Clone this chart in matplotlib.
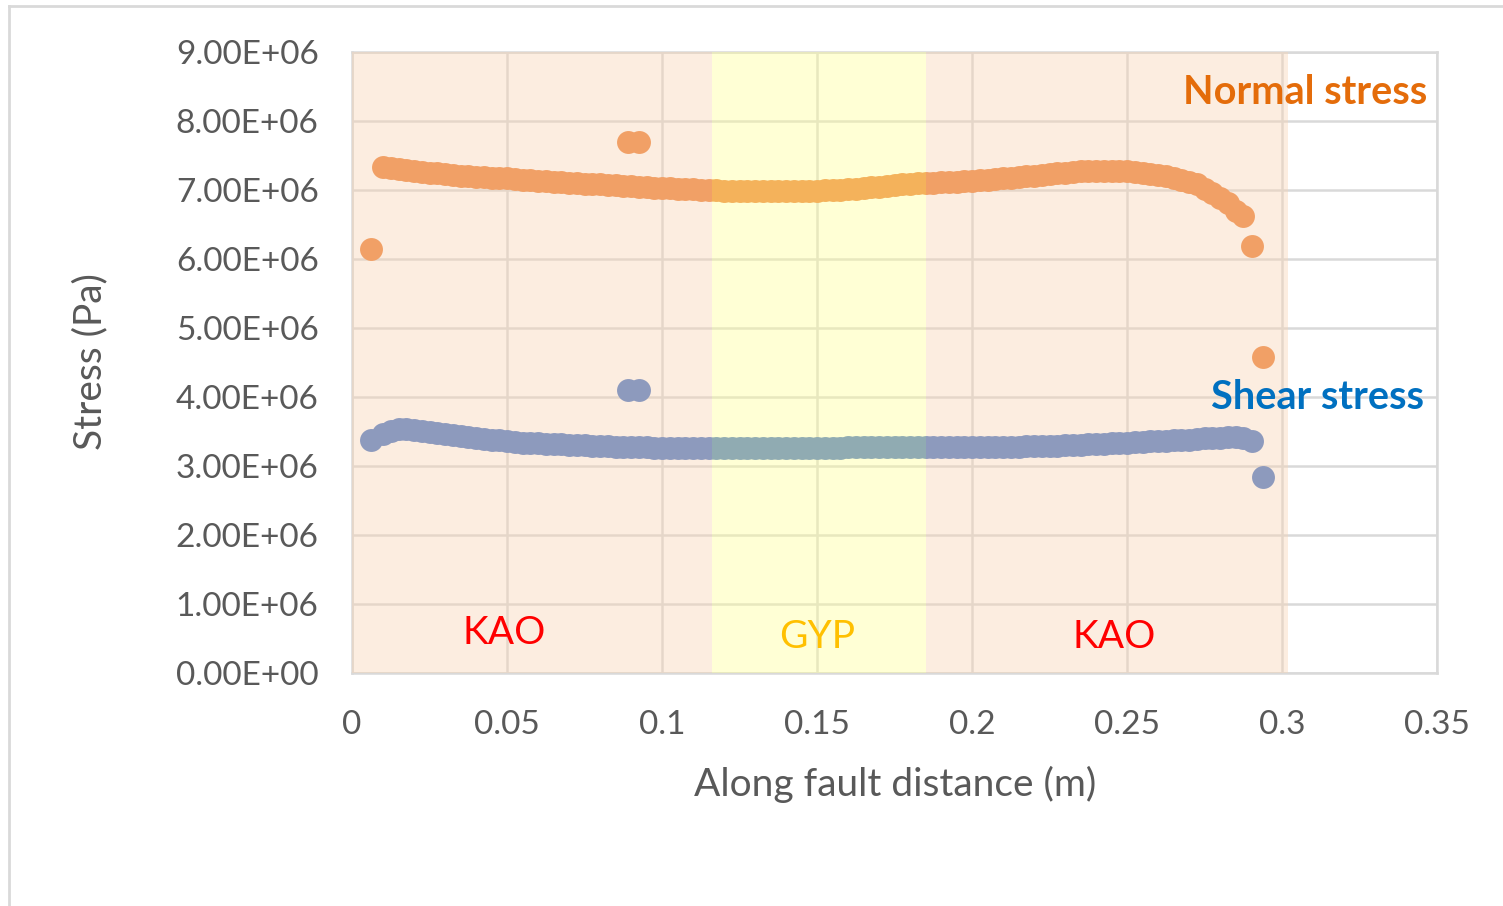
import matplotlib.pyplot as plt
from matplotlib.lines import Line2D

plt.rcParams['font.family'] = ['Lato', 'DejaVu Sans']

# Положения вдоль разлома (м)
x_pos = [0.0060,
         0.0100, 0.0125, 0.0150, 0.0175, 0.0200, 0.0225, 0.0250, 0.0275, 0.0300, 0.0325,
         0.0350, 0.0375, 0.0400, 0.0425, 0.0450, 0.0475, 0.0500, 0.0525, 0.0550, 0.0575,
         0.0600, 0.0625, 0.0650, 0.0675, 0.0700, 0.0725, 0.0750, 0.0775, 0.0800, 0.0825,
         0.0850, 0.0875, 0.0900, 0.0925, 0.0950, 0.0975, 0.1000, 0.1025, 0.1050, 0.1075,
         0.1100, 0.1125, 0.1150, 0.1175, 0.1200, 0.1225, 0.1250, 0.1275, 0.1300, 0.1325,
         0.1350, 0.1375, 0.1400, 0.1425, 0.1450, 0.1475, 0.1500, 0.1525, 0.1550, 0.1575,
         0.1600, 0.1625, 0.1650, 0.1675, 0.1700, 0.1725, 0.1750, 0.1775, 0.1800, 0.1825,
         0.1850, 0.1875, 0.1900, 0.1925, 0.1950, 0.1975, 0.2000, 0.2025, 0.2050, 0.2075,
         0.2100, 0.2125, 0.2150, 0.2175, 0.2200, 0.2225, 0.2250, 0.2275, 0.2300, 0.2325,
         0.2350, 0.2375, 0.2400, 0.2425, 0.2450, 0.2475, 0.2500, 0.2525, 0.2550, 0.2575,
         0.2600, 0.2625, 0.2650, 0.2675, 0.2700, 0.2725, 0.2750, 0.2775, 0.2800, 0.2825,
         0.2850, 0.2875,
         0.2903, 0.2940]

# Нормальное напряжение (x1e6 Па)
normal = [6.14,
          7.34, 7.32, 7.31, 7.29, 7.28, 7.26, 7.25, 7.24, 7.23, 7.22,
          7.21, 7.20, 7.19, 7.185, 7.18, 7.175, 7.17, 7.16, 7.15, 7.14,
          7.13, 7.125, 7.12, 7.11, 7.10, 7.095, 7.09, 7.085, 7.08, 7.075,
          7.07, 7.065, 7.06, 7.05, 7.04, 7.035, 7.03, 7.025, 7.02, 7.015,
          7.01, 7.005, 7.00, 6.995, 6.99, 6.985, 6.98, 6.98, 6.98, 6.98,
          6.98, 6.98, 6.98, 6.98, 6.98, 6.985, 6.99, 6.995, 7.00, 7.005,
          7.01, 7.02, 7.03, 7.04, 7.05, 7.06, 7.07, 7.08, 7.09, 7.095,
          7.10, 7.105, 7.11, 7.115, 7.12, 7.125, 7.13, 7.14, 7.15, 7.16,
          7.17, 7.18, 7.19, 7.20, 7.21, 7.22, 7.23, 7.24, 7.25, 7.26,
          7.27, 7.275, 7.28, 7.28, 7.28, 7.275, 7.27, 7.26, 7.25, 7.235,
          7.22, 7.20, 7.18, 7.15, 7.12, 7.08, 7.02, 6.96, 6.88, 6.81,
          6.70, 6.62,
          6.19, 4.58]

# Касательное напряжение (x1e6 Па)
shear = [3.38,
         3.47, 3.51, 3.53, 3.535, 3.52, 3.505, 3.49, 3.475, 3.46, 3.445,
         3.43, 3.42, 3.41, 3.395, 3.38, 3.37, 3.36, 3.35, 3.34, 3.335,
         3.33, 3.325, 3.32, 3.315, 3.31, 3.305, 3.30, 3.295, 3.29, 3.285,
         3.28, 3.275, 3.27, 3.27, 3.27, 3.265, 3.26, 3.26, 3.26, 3.26,
         3.26, 3.26, 3.26, 3.26, 3.26, 3.26, 3.26, 3.26, 3.26, 3.26,
         3.26, 3.26, 3.26, 3.26, 3.26, 3.26, 3.26, 3.26, 3.26, 3.26,
         3.27, 3.27, 3.27, 3.27, 3.27, 3.275, 3.28, 3.28, 3.28, 3.28,
         3.28, 3.28, 3.28, 3.28, 3.28, 3.28, 3.28, 3.28, 3.28, 3.28,
         3.28, 3.28, 3.28, 3.285, 3.29, 3.29, 3.29, 3.295, 3.30, 3.305,
         3.31, 3.315, 3.32, 3.325, 3.33, 3.335, 3.34, 3.345, 3.35, 3.355,
         3.36, 3.365, 3.37, 3.375, 3.38, 3.39, 3.40, 3.405, 3.41, 3.415,
         3.42, 3.41,
         3.36, 2.84]

# Выбросы
outlier_x = [0.089, 0.0925]
outlier_normal = [7.70, 7.70]
outlier_shear = [4.10, 4.10]

# Зоны материалов
zones = [(0.0, 0.116, 'KAO'), (0.116, 0.185, 'GYP'), (0.185, 0.302, 'KAO')]

x_ticks = [0, 0.05, 0.1, 0.15, 0.2, 0.25, 0.3, 0.35]
x_labels = ['0', '0.05', '0.1', '0.15', '0.2', '0.25', '0.3', '0.35']
y_ticks = [0, 1e6, 2e6, 3e6, 4e6, 5e6, 6e6, 7e6, 8e6, 9e6]

fig = plt.figure(figsize=(15.03, 9.06), dpi=100)
ax = fig.add_axes([0.2342, 0.2572, 0.9561 - 0.2342, 0.9426 - 0.2572])

ms = 16.5
ax.plot(x_pos, [v * 1e6 for v in normal], 'o', color='#ED7D31', ms=ms, mec='none', zorder=3)
ax.plot(outlier_x, [v * 1e6 for v in outlier_normal], 'o', color='#ED7D31', ms=ms, mec='none', zorder=3)
ax.plot(x_pos, [v * 1e6 for v in shear], 'o', color='#4472C4', ms=ms, mec='none', zorder=3)
ax.plot(outlier_x, [v * 1e6 for v in outlier_shear], 'o', color='#4472C4', ms=ms, mec='none', zorder=3)

# Полупрозрачные зоны поверх точек
zone_colors = {'KAO': '#F8D4B4', 'GYP': '#FFFF99'}
for x0, x1, name in zones:
    ax.axvspan(x0, x1, color=zone_colors[name], alpha=0.41, lw=0, zorder=5)

ax.set_xlim(0, 0.35)
ax.set_ylim(0, 9e6)
ax.set_xticks(x_ticks)
ax.set_xticklabels(x_labels)
ax.set_yticks(y_ticks)
ax.set_yticklabels([f'{v:.2E}' for v in y_ticks])
ax.tick_params(length=0, labelsize=24, colors='#595959')
ax.tick_params(axis='y', pad=24)
ax.tick_params(axis='x', pad=27)
ax.grid(True, color='#D9D9D9', lw=1.8, zorder=1)
ax.set_axisbelow(True)
for sp in ax.spines.values():
    sp.set_color('#D9D9D9')
    sp.set_linewidth(1.8)

ax.text(0.049, 0.58e6, 'KAO', color='#FF0000', fontsize=28, ha='center', va='center', zorder=10)
ax.text(0.15, 0.52e6, 'GYP', color='#FFC000', fontsize=28, ha='center', va='center', zorder=10)
ax.text(0.2458, 0.52e6, 'KAO', color='#FF0000', fontsize=28, ha='center', va='center', zorder=10)
ax.text(0.3074, 8.42e6, 'Normal stress', color='#E46C0A', fontsize=28.5, fontweight='bold',
        ha='center', va='center', zorder=10)
ax.text(0.3113, 3.99e6, 'Shear stress', color='#0070C0', fontsize=28.5, fontweight='bold',
        ha='center', va='center', zorder=10)

fig.text(895 / 1503, 1 - 784 / 906, 'Along fault distance (m)', fontsize=28, color='#595959',
         ha='center', va='center')
fig.text(90 / 1503, 1 - 362 / 906, 'Stress (Pa)', fontsize=28, color='#595959',
         ha='center', va='center', rotation=90)

# Рамка рисунка
fig.add_artist(Line2D([0.006, 1], [0.9934, 0.9934], color='#D9D9D9', lw=2))
fig.add_artist(Line2D([0.006, 0.006], [0, 0.9934], color='#D9D9D9', lw=2))

fig.savefig('out.png', dpi=100)
